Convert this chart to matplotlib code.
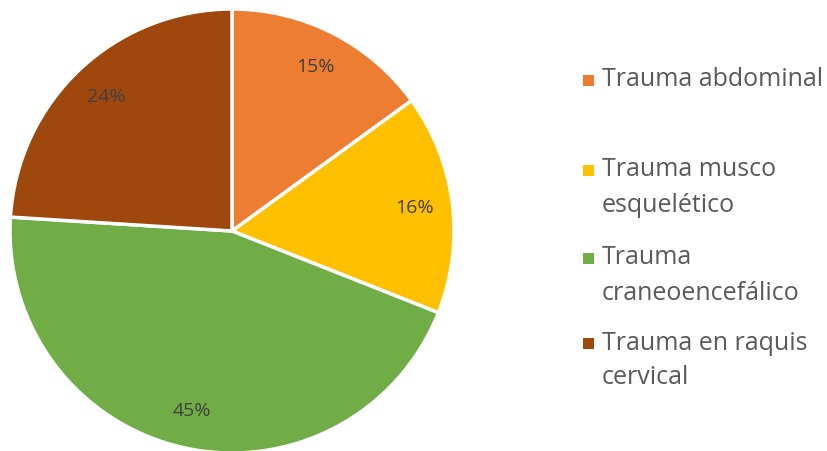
import matplotlib
matplotlib.use("Agg")
import matplotlib.pyplot as plt
from matplotlib.patches import Rectangle

# data
labels = ["Trauma abdominal", "Trauma musco\nesquelético",
          "Trauma\ncraneoencefálico", "Trauma en raquis\ncervical"]
values = [15, 16, 45, 24]
colors = ["#ED7D31", "#FFC000", "#70AD47", "#9E480E"]

plt.rcParams['font.family'] = ['Open Sans', 'DejaVu Sans']

W, H = 828, 451
fig = plt.figure(figsize=(W / 100, H / 100), dpi=100)

# pie axes, placed in pixels (center ~232,231, radius ~222)
cx, cy, r = 232, 231, 222
ax = fig.add_axes([(cx - r) / W, (H - cy - r) / H, 2 * r / W, 2 * r / H])
wedges, texts, autotexts = ax.pie(
    values, colors=colors, startangle=90, counterclock=False,
    autopct='%d%%', pctdistance=0.83, radius=1.0,
    wedgeprops=dict(edgecolor='white', linewidth=2.5))
for t in autotexts:
    t.set_color('#404040')
    t.set_fontsize(14)
ax.set_xlim(-1, 1)
ax.set_ylim(-1, 1)
ax.set_aspect('equal')
ax.set_axis_off()

# legend drawn by hand to mimic excel spacing
ys = [80, 170, 258, 343]
for lab, col, y in zip(labels, colors, ys):
    fig.patches.append(Rectangle((583 / W, (H - y - 6) / H), 11 / W, 11 / H,
                                 transform=fig.transFigure, facecolor=col,
                                 edgecolor='none'))
    for i, line in enumerate(lab.split("\n")):
        fig.text(602 / W, (H - y - i * 35) / H, line, fontsize=18,
                 color='#595959', va='center', ha='left')

fig.savefig("out.png", dpi=100)
